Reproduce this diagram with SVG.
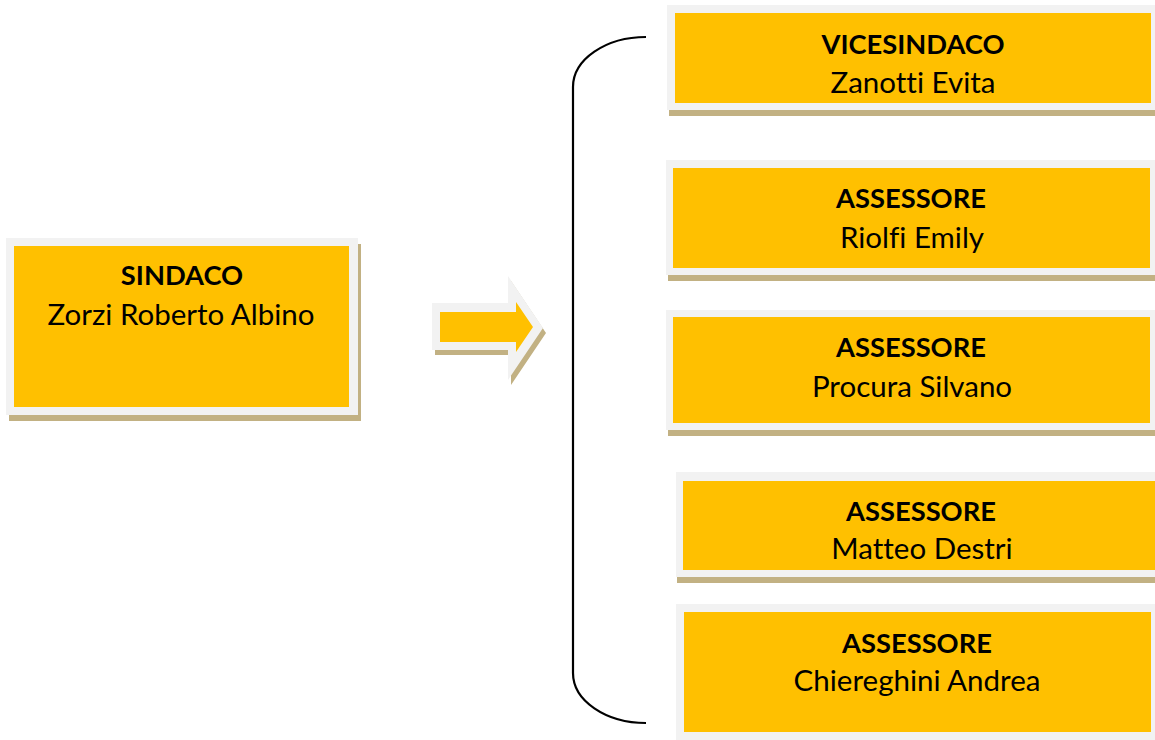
<svg xmlns="http://www.w3.org/2000/svg" width="1155" height="740" viewBox="0 0 1155 740">
  <style>
    .shadow { fill: #c2b183; }
    .frame { fill: #f2f2f2; }
    .fill { fill: #ffc000; }
    text { font-family: Lato, "Open Sans", "Liberation Sans", sans-serif; font-size: 29.5px; fill: #000; text-anchor: middle; font-variant-ligatures: none; }
    .title { font-weight: bold; font-size: 27.3px; }
    .brace { fill: none; stroke: #000; stroke-width: 2.2; }
  </style>

  <!-- Mayor -->
  <g id="sindaco">
    <rect class="shadow" x="9" y="244" width="352" height="177"/>
    <rect class="frame" x="6" y="238" width="352" height="177"/>
    <rect class="fill" x="14" y="246" width="335" height="161"/>
    <text class="title" x="182" y="285">SINDACO</text>
    <text x="181" y="325">Zorzi Roberto Albino</text>
  </g>

  <!-- Block arrow and bracket -->
  <g id="connectors">
    <path class="shadow" d="M435,308 L511,308 L511,281 L546,333 L511,385 L511,355 L435,355 Z"/>
    <path class="frame" d="M432,303 L508,303 L508,276 L543,328 L508,380 L508,350 L432,350 Z"/>
    <path class="fill" d="M440,312 L516,312 L516,302 L533,327 L516,352 L516,342 L440,342 Z"/>
    <path class="brace" d="M646,37 A73,50 0 0 0 573,87 L573,673 A73,50 0 0 0 646,723"/>
  </g>

  <!-- Deputy mayor -->
  <g id="vicesindaco">
    <rect class="shadow" x="669" y="11" width="492" height="105"/>
    <rect class="frame" x="667" y="5" width="492" height="105"/>
    <rect class="fill" x="675" y="13" width="476" height="90"/>
    <text class="title" x="913" y="54">VICESINDACO</text>
    <text x="913" y="93">Zanotti Evita</text>
  </g>

  <!-- Councillors -->
  <g id="assessore-riolfi">
    <rect class="shadow" x="668" y="166" width="493" height="115"/>
    <rect class="frame" x="666" y="160" width="493" height="115"/>
    <rect class="fill" x="673" y="168" width="477" height="100"/>
    <text class="title" x="911" y="208">ASSESSORE</text>
    <text x="912" y="248">Riolfi Emily</text>
  </g>

  <g id="assessore-procura">
    <rect class="shadow" x="668" y="316" width="493" height="120"/>
    <rect class="frame" x="666" y="310" width="493" height="120"/>
    <rect class="fill" x="673" y="317" width="477" height="106"/>
    <text class="title" x="911" y="357">ASSESSORE</text>
    <text x="912" y="397">Procura Silvano</text>
  </g>

  <g id="assessore-destri">
    <rect class="shadow" x="677" y="478" width="490" height="105"/>
    <rect class="frame" x="676" y="472" width="490" height="105"/>
    <rect class="fill" x="683" y="481" width="480" height="89"/>
    <text class="title" x="921" y="521">ASSESSORE</text>
    <text x="922" y="559">Matteo Destri</text>
  </g>

  <g id="assessore-chiereghini">
    <rect class="frame" x="676" y="604" width="483" height="140"/>
    <rect class="fill" x="684" y="612" width="467" height="120"/>
    <text class="title" x="917" y="653">ASSESSORE</text>
    <text x="917" y="691">Chiereghini Andrea</text>
  </g>
</svg>
